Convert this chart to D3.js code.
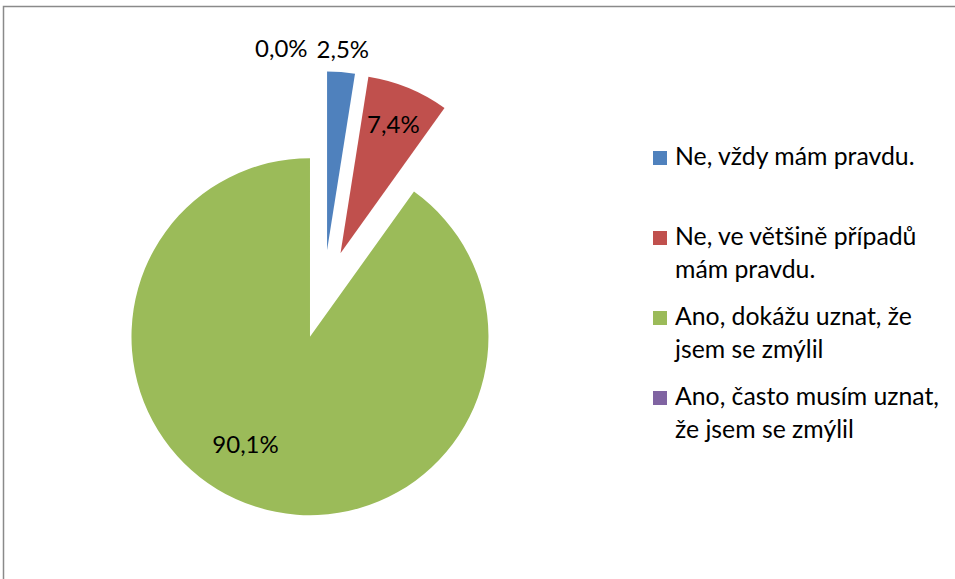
<!DOCTYPE html>
<html>
<head>
<meta charset="utf-8">
<script src="https://cdn.jsdelivr.net/npm/d3@7"></script>
<style>
  body { margin: 0; background: #fff; }
  svg text { font-family: Lato, "Open Sans", sans-serif; fill: #000; }
</style>
</head>
<body>
<div id="chart"></div>
<script>
// data
var categories = ["Ne, vždy mám pravdu.", "Ne, ve většině případů mám pravdu.", "Ano, dokážu uznat, že jsem se zmýlil", "Ano, často musím uznat, že jsem se zmýlil"];
var values = [2.5, 7.4, 90.1, 0.0];
var valueLabels = ["2,5%", "7,4%", "90,1%", "0,0%"];
var legendLines = [["Ne, vždy mám pravdu."], ["Ne, ve většině případů", "mám pravdu."], ["Ano, dokážu uznat, že", "jsem se zmýlil"], ["Ano, často musím uznat,", "že jsem se zmýlil"]];
var colors = ["#4F81BD", "#C0504D", "#9BBB59", "#8064A2"];

var width = 955, height = 579;
var cx = 323.6, cy = 294.3;   // pie centre
var radius = 178.5;
var explode = 44.5;          // every slice pulled out
var fontSize = 24;
var legendFont = 24.8;

var svg = d3.select("#chart").append("svg")
    .attr("width", width)
    .attr("height", height);

// chart border (runs off the right / bottom edge)
svg.append("rect")
    .attr("x", 3.5).attr("y", 6.5)
    .attr("width", width + 20).attr("height", height + 20)
    .attr("fill", "none")
    .attr("stroke", "#8a8a8a")
    .attr("stroke-width", 1.5);

var pie = d3.pie().sort(null).value(function (d) { return d; });
var arcs = pie(values);
var arc = d3.arc().innerRadius(0).outerRadius(radius);

function mid(d) { return (d.startAngle + d.endAngle) / 2; }
function shift(d) {
    var a = mid(d);
    return [Math.sin(a) * explode, -Math.cos(a) * explode];
}

var g = svg.append("g").attr("transform", "translate(" + cx + "," + cy + ")");

g.selectAll("path.slice")
    .data(arcs)
    .enter()
    .append("path")
    .attr("class", "slice")
    .attr("d", arc)
    .attr("fill", function (d, i) { return colors[i]; })
    .attr("transform", function (d) { var s = shift(d); return "translate(" + s[0] + "," + s[1] + ")"; });

// label placement: radius (fraction of r) and angle nudge in degrees, "best fit" look
var labelPos = [
    { r: 1.125, da: 0, anchor: "middle", dx: 0 },
    { r: 0.78, da: 0, anchor: "middle", dx: 0 },
    { r: 0.705, da: 13, anchor: "middle", dx: 0 },
    { r: 1.125, da: 0, anchor: "end", dx: -16 }
];

g.selectAll("text.lbl")
    .data(arcs)
    .enter()
    .append("text")
    .attr("class", "lbl")
    .attr("text-anchor", function (d, i) { return labelPos[i].anchor; })
    .attr("font-size", fontSize)
    .attr("dy", "0.35em")
    .attr("x", function (d, i) {
        var s = shift(d), a = mid(d) + labelPos[i].da * Math.PI / 180;
        return s[0] + Math.sin(a) * radius * labelPos[i].r + labelPos[i].dx;
    })
    .attr("y", function (d, i) {
        var s = shift(d), a = mid(d) + labelPos[i].da * Math.PI / 180;
        return s[1] - Math.cos(a) * radius * labelPos[i].r;
    })
    .text(function (d, i) { return valueLabels[i]; });

// legend
var legendX = 653, legendTop = 165, legendStep = 80, lineH = 33;
var legend = svg.selectAll("g.legend")
    .data(categories)
    .enter()
    .append("g")
    .attr("class", "legend")
    .attr("transform", function (d, i) { return "translate(" + legendX + "," + (legendTop + i * legendStep) + ")"; });

legend.append("rect")
    .attr("x", 0).attr("y", -14)
    .attr("width", 14).attr("height", 14)
    .attr("fill", function (d, i) { return colors[i]; });

legend.append("text")
    .attr("x", 22)
    .attr("font-size", legendFont)
    .selectAll("tspan")
    .data(function (d, i) { return legendLines[i]; })
    .enter()
    .append("tspan")
    .attr("x", 22)
    .attr("y", function (d, j) { return j * lineH; })
    .text(function (d) { return d; });
</script>
</body>
</html>
